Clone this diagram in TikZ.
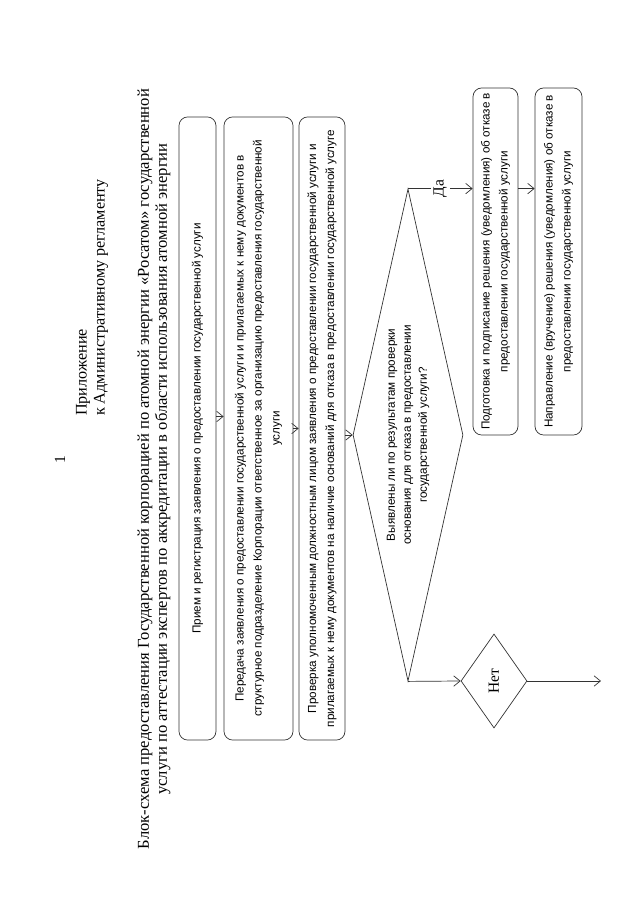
\documentclass[tikz,border=0pt]{standalone}
\usepackage{fontspec}
\setmainfont{Liberation Serif}
\setsansfont{Liberation Sans}
\usetikzlibrary{arrows.meta, shapes.geometric}

\begin{document}
\begin{tikzpicture}[
    x=0.025cm, y=0.025cm,
    rotate=90, transform shape, % Page is turned on its side
    line width=0.5pt,
    color=black!80,
    every node/.style={text=black},
    arr/.style={-{Straight Barb[length=1.6mm, width=2.6mm]}},
    box/.style={draw, rounded corners=0.22cm, align=center, inner sep=0pt,
        font=\sffamily\fontsize{8.3}{12.8}\selectfont},
    decision/.style={draw, diamond, align=center, inner sep=0pt,
        font=\sffamily\fontsize{8.3}{11.4}\selectfont}
]

    % --- PAGE FRAME ---
    \useasboundingbox (0,0) rectangle (905,640);

    % Page number and heading
    \node[font=\fontsize{11}{13}\selectfont] (pagenum) at (445, 580) {1};
    \node[anchor=west, align=left, font=\fontsize{11.5}{12.8}\selectfont] (annex) at (484, 548)
        {Приложение\\к Административному регламенту};
    \node[align=center, font=\fontsize{11.8}{12.8}\selectfont] (title) at (436, 486)
        {Блок-схема предоставления Государственной корпорацией по атомной энергии «Росатом» государственной\\
         услуги по аттестации экспертов по аккредитации в области использования атомной энергии};

    % --- MAIN CHAIN ---
    \node[box, minimum width=15.575cm, minimum height=0.925cm] (recv) at (476.5, 442.5)
        {Прием и регистрация заявления о предоставлении государственной услуги};
    \node[box, minimum width=15.575cm, minimum height=1.725cm] (pass) at (476.5, 381.5)
        {Передача заявления о предоставлении государственной услуги и прилагаемых к нему документов в\\
         структурное подразделение Корпорации ответственное за организацию предоставления государственной\\
         услуги};
    \node[box, minimum width=15.575cm, minimum height=1.15cm] (check) at (476.5, 318)
        {Проверка уполномоченным должностным лицом заявления о предоставлении государственной услуги и\\
         прилагаемых к нему документов на наличие оснований для отказа в предоставлении государственной услуге};

    % Decision
    \node[decision, aspect=4.47, minimum width=12.3cm, minimum height=2.75cm] (found) at (470, 232)
        {Выявлены ли по результатам проверки\\основания для отказа в предоставлении\\государственной услуги?};

    % --- YES BRANCH ---
    \node[box, minimum width=8.675cm, minimum height=1.125cm] (prep) at (643.5, 144.5)
        {Подготовка и подписание решения (уведомления) об отказе в\\предоставлении государственной услуги};
    \node[box, minimum width=8.675cm, minimum height=1.175cm] (send) at (643.5, 81.5)
        {Направление (вручение) решения (уведомления) об отказе в\\предоставлении государственной услуги};

    % --- NO BRANCH ---
    \node[draw, diamond, aspect=1.42, minimum width=2.35cm, minimum height=1.65cm, inner sep=0pt,
        font=\fontsize{11}{13}\selectfont] (no) at (224, 146) {Нет};
    \coordinate (noend) at (224, 39);

    % Connectors
    \draw[arr] ([xshift=0.3cm]recv.south) -- ([xshift=0.3cm]pass.north);
    \draw[arr] (pass.south) -- (check.north);
    \draw[arr] (check.south -| found.north) -- (found.north);
    \draw[arr] (found.east) -- node[fill=white, inner sep=2pt, font=\fontsize{11}{13}\selectfont] {Да}
        (found.east |- prep.north);
    \draw[arr] (prep.south -| found.east) -- (send.north -| found.east);
    \draw[arr] (found.west) -- (no.north);
    \draw[arr] (no.south) -- (noend);

\end{tikzpicture}
\end{document}
